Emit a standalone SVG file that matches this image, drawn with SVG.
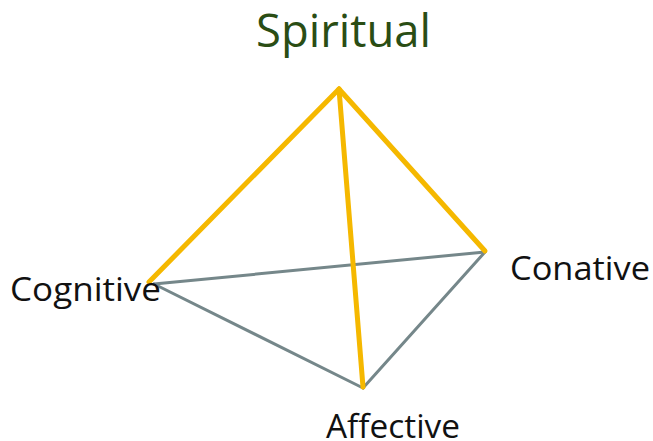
<svg xmlns="http://www.w3.org/2000/svg" width="653" height="441" viewBox="0 0 653 441">
<style>
.lbl{font-family:"Open Sans","Liberation Sans",sans-serif;fill:#111;font-size:33px}
.title{font-family:"Open Sans","Liberation Sans",sans-serif;fill:#2a4d14;font-size:46px}
.y{stroke:#f5b800;stroke-width:5;stroke-linecap:round;fill:none}
.g{stroke:#75878a;stroke-width:3;stroke-linecap:round;fill:none}
</style>
<rect width="653" height="441" fill="#fff"/>
<g id="connectors">
<line class="g" x1="154" y1="284" x2="485" y2="252"/>
<line class="g" x1="154" y1="284" x2="363" y2="388"/>
<line class="g" x1="363" y1="388" x2="485" y2="252"/>
<line class="y" x1="339" y1="89" x2="149" y2="282"/>
<line class="y" x1="339" y1="89" x2="485" y2="251"/>
<line class="y" x1="339" y1="89" x2="363" y2="387"/>
</g>
<g id="spiritual"><text class="title" x="256" y="47" textLength="175" lengthAdjust="spacingAndGlyphs">Spiritual</text></g>
<g id="cognitive"><text class="lbl" x="10" y="301" textLength="151" lengthAdjust="spacingAndGlyphs">Cognitive</text></g>
<g id="conative"><text class="lbl" x="510" y="280" textLength="140" lengthAdjust="spacingAndGlyphs">Conative</text></g>
<g id="affective"><text class="lbl" x="326" y="438" textLength="134" lengthAdjust="spacingAndGlyphs">Affective</text></g>
</svg>
